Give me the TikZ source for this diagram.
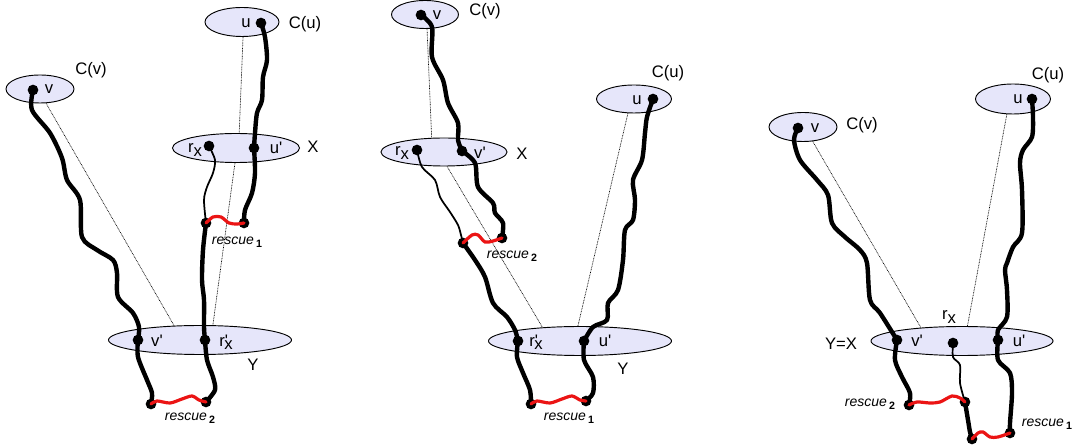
\documentclass[tikz,border=0pt]{standalone}
\usepackage{fontspec}
\setmainfont{Liberation Sans}
\usetikzlibrary{shapes.geometric}
\definecolor{lav}{RGB}{230,230,250}
\definecolor{resred}{RGB}{235,20,20}
\newcommand{\pr}{\textquotesingle}
\newcommand{\rx}{r\raisebox{-0.35ex}{x}}
\newcommand{\rxp}{r\pr\kern-0.22em\raisebox{-0.35ex}{x}}
\newcommand{\resc}[1]{\textit{rescue}\,\raisebox{-0.45ex}{\fontsize{8}{8}\selectfont\bfseries #1}}
\tikzset{
  cell/.style={ellipse, draw, line width=0.7pt, fill=lav, inner sep=0pt},
  dot/.style={circle, fill=black, inner sep=0pt, minimum size=8pt},
  thk/.style={line width=3.3pt, line cap=round, line join=round},
  thn/.style={line width=1.3pt, line cap=round, line join=round},
  red/.style={line width=2.4pt, color=resred, line cap=round},
  dotl/.style={line width=0.5pt, dash pattern=on 0.6pt off 0.6pt},
  lbl/.style={inner sep=0pt, font=\fontsize{12.5}{14}\selectfont},
  rlbl/.style={inner sep=0pt, font=\fontsize{10.5}{12}\selectfont},
}
\begin{document}
\begin{tikzpicture}[x=0.75pt,y=-0.75pt]
\useasboundingbox (0,0) rectangle (1078,448);
% ---------------- panel 1 ----------------
\node[cell, minimum width=55.5pt, minimum height=21.75pt] (Cu1) at (242,22) {};
\node[cell, minimum width=51pt, minimum height=21pt] (Cv1) at (40,89) {};
\node[cell, minimum width=95.25pt, minimum height=21.75pt] (X1) at (236,148) {};
\node[cell, minimum width=137.25pt, minimum height=21.75pt] (Y1) at (200,340) {};
\draw[dotl] (Cu1.274) -- (X1.78);
\draw[dotl] (X1.266) -- (Y1.49);
\draw[dotl] (Cv1.293) -- (Y1.151);
\node[dot] (u1) at (261,23) {};
\node[dot] (up1) at (254,148) {};
\node[dot] (rx1) at (209,146) {};
\node[dot] (r1a) at (206,223) {};
\node[dot] (r1b) at (244,223) {};
\node[dot] (v1) at (33,90) {};
\node[dot] (vp1) at (138,340) {};
\node[dot] (rxp1) at (205,340) {};
\node[dot] (r2a) at (151,404) {};
\node[dot] (r2b) at (206,402) {};
\draw[thk] plot[smooth] coordinates {(v1.center) (32,110) (50,133) (62,158) (67,180) (80,200) (82,237) (97,250) (113,260) (117,273) (118,297) (133,313) (139,327) (vp1.center)};
\draw[thk] plot[smooth] coordinates {(vp1.center) (138,357) (147,380) (152,393) (r2a.center)};
\draw[thk] plot[smooth] coordinates {(u1.center) (265,37) (267,60) (263,77) (262,100) (257,113) (255,133) (up1.center)};
\draw[thk] plot[smooth] coordinates {(up1.center) (255,173) (252,193) (245,210) (r1b.center)};
\draw[thn] plot[smooth] coordinates {(rx1.center) (215,160) (213,173) (207,187) (204,200) (r1a.center)};
\draw[thk] plot[smooth] coordinates {(r1a.center) (203,250) (202,280) (204,300) (204,327) (rxp1.center)};
\draw[thk] plot[smooth] coordinates {(rxp1.center) (207,360) (213,377) (215,390) (r2b.center)};
\draw[red] plot[smooth] coordinates {(r1a.center) (213,217) (221,217) (229,223) (237,224) (r1b.center)};
\draw[red] plot[smooth] coordinates {(r2a.center) (157,401) (170,403) (182,399) (192,396) (199,400) (r2b.center)};
\node[lbl] (lu1) at (246,23) {u};
\node[lbl] (lCu1) at (305,24) {C(u)};
\node[lbl] (lCv1) at (91,70) {C(v)};
\node[lbl] (lv1) at (49,89) {v};
\node[lbl] (lrx1) at (195,150) {\rx};
\node[lbl] (lup1) at (276,148) {u\pr};
\node[lbl] (lX1) at (313,147) {X};
\node[lbl] (lvp1) at (157,341) {v\pr};
\node[lbl] (lrxp1) at (226,342) {\rxp};
\node[lbl] (lY1) at (253,365) {Y};
\node[rlbl] (lr11) at (237,242) {\resc{1}};
\node[rlbl] (lr21) at (190,418) {\resc{2}};
% ---------------- panel 2 ----------------
\node[cell, minimum width=50.25pt, minimum height=21pt] (Cv2) at (425,14.5) {};
\node[cell, minimum width=94.5pt, minimum height=21pt] (X2) at (444,152) {};
\node[cell, minimum width=56.25pt, minimum height=21pt] (Cu2) at (634,99) {};
\node[cell, minimum width=137.25pt, minimum height=21.75pt] (Y2) at (580,341) {};
\draw[dotl] (Cv2.278) -- (X2.131);
\draw[dotl] (X2.282) -- (Y2.160);
\draw[dotl] (Cu2.247) -- (Y2.98);
\node[dot] (v2) at (421,15) {};
\node[dot] (vp2) at (462,151) {};
\node[dot] (rx2) at (417,150) {};
\node[dot] (r2a2) at (463,243) {};
\node[dot] (r2b2) at (502,238) {};
\node[dot] (rxp2) at (518,341) {};
\node[dot] (up2) at (584,341) {};
\node[dot] (u2) at (653,99) {};
\node[dot] (r1a2) at (531,404) {};
\node[dot] (r1b2) at (586,401) {};
\draw[thk] plot[smooth] coordinates {(v2.center) (432,27) (432,57) (443,80) (448,103) (458,123) (458,140) (vp2.center)};
\draw[thk] plot[smooth] coordinates {(vp2.center) (475,163) (478,187) (493,203) (495,213) (503,223) (r2b2.center)};
\draw[thn] plot[smooth] coordinates {(rx2.center) (422,167) (435,180) (440,197) (450,212) (458,225) (461,235) (r2a2.center)};
\draw[thk] plot[smooth] coordinates {(r2a2.center) (475,260) (485,277) (493,303) (507,317) (515,330) (rxp2.center)};
\draw[thk] plot[smooth] coordinates {(rxp2.center) (517,357) (523,373) (530,390) (r1a2.center)};
\draw[thk] plot[smooth] coordinates {(u2.center) (647,117) (645,133) (642,160) (633,180) (635,200) (633,220) (625,230) (623,260) (618,290) (608,303) (607,320) (593,327) (up2.center)};
\draw[thk] plot[smooth] coordinates {(up2.center) (584,360) (593,377) (593,393) (r1b2.center)};
\draw[red] plot[smooth] coordinates {(r2a2.center) (472,235) (478,235) (485,242) (493,241) (r2b2.center)};
\draw[red] plot[smooth] coordinates {(r1a2.center) (537,401) (550,403) (562,399) (572,396) (580,400) (r1b2.center)};
\node[lbl] (lv2) at (437,15) {v};
\node[lbl] (lCv2) at (485,11) {C(v)};
\node[lbl] (lrx2) at (402,153) {\rx};
\node[lbl] (lvp2) at (480,153) {v\pr};
\node[lbl] (lX2) at (522,154) {X};
\node[lbl] (lu2) at (637,100) {u};
\node[lbl] (lCu2) at (668,73) {C(u)};
\node[lbl] (lrxp2) at (536,342) {\rxp};
\node[lbl] (lup2) at (605,341) {u\pr};
\node[lbl] (lY2) at (623,369) {Y};
\node[rlbl] (lr22) at (512,256) {\resc{2}};
\node[rlbl] (lr12) at (569,418) {\resc{1}};
% ---------------- panel 3 ----------------
\node[cell, minimum width=51pt, minimum height=21.75pt] (Cv3) at (803,127) {};
\node[cell, minimum width=56.25pt, minimum height=22.5pt] (Cu3) at (1013,99) {};
\node[cell, minimum width=136.5pt, minimum height=21.75pt] (YX3) at (962,341) {};
\draw[dotl] (Cv3.304) -- (YX3.162);
\draw[dotl] (Cu3.248) -- (YX3.70);
\node[dot] (v3) at (798,128) {};
\node[dot] (vp3) at (897,340) {};
\node[dot] (m3) at (953,343) {};
\node[dot] (up3) at (998,340) {};
\node[dot] (u3) at (1032,99) {};
\node[dot] (r2a3) at (909,405) {};
\node[dot] (r2b3) at (965,402) {};
\node[dot] (r1a3) at (972,439) {};
\node[dot] (r1b3) at (1010,433) {};
\draw[thk] plot[smooth] coordinates {(v3.center) (794,140) (800,160) (817,180) (828,195) (832,223) (845,237) (860,250) (867,263) (870,300) (880,313) (vp3.center)};
\draw[thk] plot[smooth] coordinates {(vp3.center) (895,360) (902,377) (910,393) (r2a3.center)};
\draw[thn] plot[smooth] coordinates {(m3.center) (953,357) (960,365) (960,383) (r2b3.center)};
\draw[thk] plot[smooth] coordinates {(r2b3.center) (968,420) (970,432) (r1a3.center)};
\draw[thk] plot[smooth] coordinates {(u3.center) (1033,117) (1032,137) (1023,150) (1020,163) (1022,190) (1022,233) (1013,247) (1007,263) (1005,270) (1007,290) (1007,317) (998,330) (up3.center)};
\draw[thk] plot[smooth] coordinates {(up3.center) (998,360) (1010,373) (1012,393) (1010,423) (r1b3.center)};
\draw[red] plot[smooth] coordinates {(r2a3.center) (917,402) (930,403) (940,402) (952,396) (960,398) (r2b3.center)};
\draw[red] plot[smooth] coordinates {(r1a3.center) (978,433) (983,432) (990,437) (998,437) (r1b3.center)};
\node[lbl] (lv3) at (815,128) {v};
\node[lbl] (lCv3) at (862,125) {C(v)};
\node[lbl] (lu3) at (1018,99) {u};
\node[lbl] (lCu3) at (1048,75) {C(u)};
\node[lbl] (lYX3) at (841,344) {Y=X};
\node[lbl] (lrx3) at (949,317) {\rx};
\node[lbl] (lvp3) at (917,341) {v\pr};
\node[lbl] (lup3) at (1019,341) {u\pr};
\node[rlbl] (lr23) at (870,404) {\resc{2}};
\node[rlbl] (lr13) at (1047,424) {\resc{1}};
\end{tikzpicture}
\end{document}
